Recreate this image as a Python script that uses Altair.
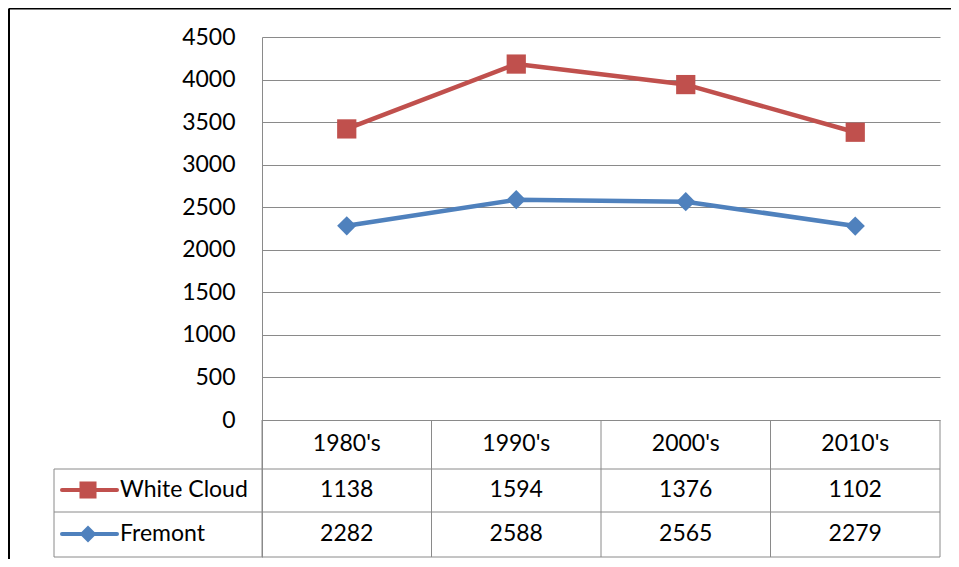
import altair as alt
import pandas as pd

# ---------------- data ----------------
decades = ["1980's", "1990's", "2000's", "2010's"]
white_cloud = [1138, 1594, 1376, 1102]
fremont = [2282, 2588, 2565, 2279]
series_names = ["White Cloud", "Fremont"]
series_colors = ["#C0504D", "#4F81BD"]
series_shapes = ["square", "diamond"]
y_ticks = [0, 500, 1000, 1500, 2000, 2500, 3000, 3500, 4000, 4500]

# ---------------- layout (pixels) ----------------
PLOT_W = 678
PLOT_H = 520
ZERO_PX = 383
Y_MAX = 4500
UPP = Y_MAX / ZERO_PX
Y_MIN = Y_MAX - PLOT_H * UPP
COL_PX = PLOT_W / len(decades)
FONT = "Lato"
FS = 23
GRID = "#8a8a8a"


def ux(px):
    return -0.5 + px / COL_PX


def uy(px):
    return Y_MAX - px * UPP


ROW_LINES = [432, 475, 520]
HEADER_MID = 407
ROW_MID = [453, 497]
LEG_LEFT = ux(-208)

xs = alt.Scale(domain=[-0.5, len(decades) - 0.5], nice=False, zero=False)
ys = alt.Scale(domain=[Y_MIN, Y_MAX], nice=False, zero=False)
cs = alt.Scale(domain=series_names, range=series_colors)
ss = alt.Scale(domain=series_names, range=series_shapes)
Y_AX = alt.Axis(
    values=y_ticks, format="d", grid=True, gridColor=GRID, gridWidth=1,
    domain=True, domainColor=GRID, domainWidth=1, ticks=False,
    labelPadding=27, labelFont=FONT, labelFontSize=FS, labelColor="black",
    labelFlush=False, labelOverlap=False, title=None)


def X(f):
    return alt.X(f, scale=xs, axis=None)


def Y(f):
    return alt.Y(f, scale=ys, axis=Y_AX)


rows = []
for i, d in enumerate(decades):
    rows.append({"idx": i, "decade": d, "series": "Fremont", "value": fremont[i], "order": 0})
    rows.append({"idx": i, "decade": d, "series": "White Cloud", "value": white_cloud[i], "order": 1})
df = pd.DataFrame(rows)

base = alt.Chart(df).transform_stack(
    stack="value", groupby=["idx"], as_=["y0", "y1"],
    sort=[alt.SortField("order", order="ascending")]
)

lines = base.mark_line(strokeWidth=4.5, strokeCap="round", strokeJoin="round").encode(
    x=X("idx:Q"), y=Y("y1:Q"),
    color=alt.Color("series:N", scale=cs, legend=None),
    detail="series:N",
)
points = base.mark_point(filled=True, size=370, opacity=1).encode(
    x=X("idx:Q"), y=Y("y1:Q"),
    color=alt.Color("series:N", scale=cs, legend=None),
    shape=alt.Shape("series:N", scale=ss, legend=None),
)

# ---------------- data table ----------------
seg = []
for k in range(len(decades) + 1):
    seg.append({"x": k - 0.5, "x2": k - 0.5, "y": 0.0, "y2": Y_MIN})
seg.append({"x": LEG_LEFT, "x2": LEG_LEFT, "y": uy(ROW_LINES[0]), "y2": Y_MIN})
for r in ROW_LINES:
    seg.append({"x": LEG_LEFT, "x2": len(decades) - 0.5, "y": uy(r), "y2": uy(r)})
table_lines = alt.Chart(pd.DataFrame(seg)).mark_rule(color=GRID, strokeWidth=1).encode(
    x=X("x:Q"), x2="x2:Q", y=Y("y:Q"), y2="y2:Q",
)

hdr_df = pd.DataFrame({"idx": list(range(len(decades))), "decade": decades,
                       "yy": [uy(HEADER_MID)] * len(decades)})
header = alt.Chart(hdr_df).mark_text(font=FONT, fontSize=FS, color="black", baseline="middle").encode(
    x=X("idx:Q"), y=Y("yy:Q"), text="decade:N",
)

cell_rows = []
for j, vals in enumerate([white_cloud, fremont]):
    for i, v in enumerate(vals):
        cell_rows.append({"idx": i, "txt": str(v), "yy": uy(ROW_MID[j])})
cells = alt.Chart(pd.DataFrame(cell_rows)).mark_text(font=FONT, fontSize=FS, color="black", baseline="middle").encode(
    x=X("idx:Q"), y=Y("yy:Q"), text="txt:N",
)

leg_df = pd.DataFrame({
    "series": series_names,
    "yy": [uy(ROW_MID[0]), uy(ROW_MID[1])],
    "xa": [ux(-200)] * 2, "xb": [ux(-145)] * 2,
    "xm": [ux(-174)] * 2, "xt": [ux(-142)] * 2,
})
leg_line = alt.Chart(leg_df).mark_rule(strokeWidth=4, strokeCap="round").encode(
    x=X("xa:Q"), x2="xb:Q", y=Y("yy:Q"),
    color=alt.Color("series:N", scale=cs, legend=None),
)
leg_pt = alt.Chart(leg_df).mark_point(filled=True, size=290, opacity=1).encode(
    x=X("xm:Q"), y=Y("yy:Q"),
    color=alt.Color("series:N", scale=cs, legend=None),
    shape=alt.Shape("series:N", scale=ss, legend=None),
)
leg_txt = alt.Chart(leg_df).mark_text(font=FONT, fontSize=FS, color="black", baseline="middle", align="left").encode(
    x=X("xt:Q"), y=Y("yy:Q"), text="series:N",
)

frame_left = alt.Chart(pd.DataFrame({"a": [0]})).mark_rule(color="black", strokeWidth=2).encode(
    x=alt.value(-253), y=alt.value(-28.5), y2=alt.value(560))
frame_top = alt.Chart(pd.DataFrame({"a": [0]})).mark_rule(color="black", strokeWidth=2).encode(
    x=alt.value(-253), x2=alt.value(720), y=alt.value(-28.5))

chart = alt.layer(
    table_lines, header, cells, leg_line, leg_pt, leg_txt,
    lines, points, frame_left, frame_top,
).properties(
    width=PLOT_W, height=PLOT_H,
    padding={"left": 254, "top": 29, "right": 11, "bottom": 2},
    autosize=alt.AutoSizeParams(type="none"),
    background="white",
).configure_view(strokeWidth=0, stroke=None)

chart.save("out.html", embed_options={"renderer": "svg", "actions": False})
